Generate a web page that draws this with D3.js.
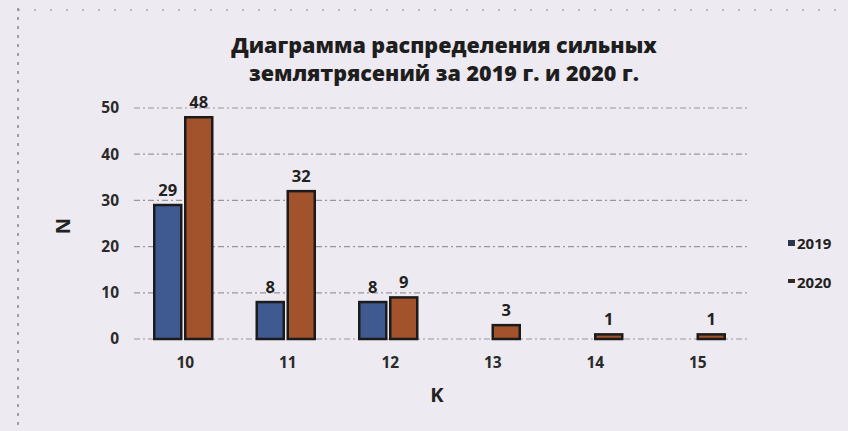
<!DOCTYPE html>
<html><head><meta charset="utf-8">
<script src="https://cdn.jsdelivr.net/npm/d3@7"></script>
<style>
html,body{margin:0;padding:0;background:#eeeaf1;}
svg{display:block;font-family:"Open Sans","DejaVu Sans",sans-serif;}
</style></head><body>
<svg id="c" width="848" height="431"></svg>
<script>
const categories = ["10","11","12","13","14","15"];
const seriesNames = ["2019","2020"];
const values2019 = [29, 8, 8, null, null, null];
const values2020 = [48, 32, 9, 3, 1, 1];
const yTicks = [0,10,20,30,40,50];
const titleLines = ["Диаграмма распределения сильных","землятрясений за 2019 г. и 2020 г."];
const colors = ["#3f5a91","#a2532c"];

const svg = d3.select("#c");
const W=848,H=431;
svg.append("rect").attr("width",W).attr("height",H).attr("fill","#eeeaf1");
// photo frame lines
svg.append("line").attr("x1",18).attr("x2",18).attr("y1",8).attr("y2",H)
  .attr("stroke","#555").attr("stroke-width",1).attr("stroke-dasharray","3,6");
svg.append("line").attr("x1",18).attr("x2",W).attr("y1",10).attr("y2",10)
  .attr("stroke","#888").attr("stroke-width",1).attr("stroke-dasharray","2,14");

const x = d3.scaleBand().domain(categories).range([134,749]).paddingInner(0).paddingOuter(0);
const y = d3.scaleLinear().domain([0,50]).range([339,108]);
const bw = 27, gap = 4;

// gridlines
svg.append("g").selectAll("line").data(yTicks).join("line")
  .attr("x1",134).attr("x2",749).attr("y1",d=>y(d)).attr("y2",d=>y(d))
  .attr("stroke","#9a96a0").attr("stroke-width",1.2).attr("stroke-dasharray","6,3,2,3");

// y axis tick labels
const yAxis = d3.axisLeft(y).tickValues(yTicks).tickSize(0).tickPadding(0);
const ya = svg.append("g").attr("transform","translate(119,0)").call(yAxis);
ya.select(".domain").remove();
ya.selectAll("text").attr("font-size",15.5).attr("font-weight","bold").attr("fill","#2a2a2a")
  .attr("font-family","'Open Sans',sans-serif");

// x axis tick labels
const xAxis = d3.axisBottom(x).tickSize(0).tickPadding(0);
const xa = svg.append("g").attr("transform","translate(0,357)").call(xAxis);
xa.select(".domain").remove();
xa.selectAll("text").attr("font-size",15.5).attr("font-weight","bold").attr("fill","#2a2a2a")
  .attr("font-family","'Open Sans',sans-serif");

const series = [values2019, values2020];
series.forEach((vals,si)=>{
  const data = categories.map((c,i)=>({c,v:vals[i]})).filter(d=>d.v!=null);
  const off = si===0 ? -bw-gap/2 : gap/2;
  const g = svg.append("g");
  g.selectAll("rect").data(data).join("rect")
    .attr("x",d=>x(d.c)+x.bandwidth()/2+off-2)
    .attr("y",d=>y(d.v))
    .attr("width",bw).attr("height",d=>y(0)-y(d.v))
    .attr("fill",colors[si]).attr("stroke","#1b1b1b").attr("stroke-width",2.5);
  g.selectAll("text").data(data).join("text")
    .attr("x",d=>x(d.c)+x.bandwidth()/2+off-2+bw/2)
    .attr("y",d=>y(d.v)-9)
    .attr("text-anchor","middle")
    .attr("font-size",16.5).attr("font-weight","bold").attr("fill","#222")
    .text(d=>d.v);
});

// title
svg.append("text").attr("x",444).attr("y",0).attr("text-anchor","middle")
  .attr("font-size",21.5).attr("font-weight","800").attr("fill","#1e1e1e")
  .selectAll("tspan").data(titleLines).join("tspan")
  .attr("x",444).attr("y",(d,i)=>53+i*28).text(d=>d);

// axis titles
svg.append("text").attr("transform","translate(70,226) rotate(-90)")
  .attr("text-anchor","middle").attr("font-size",20).attr("font-weight","bold")
  .attr("fill","#222").text("N");
svg.append("text").attr("x",437).attr("y",402).attr("text-anchor","middle")
  .attr("font-size",20).attr("font-weight","bold").attr("fill","#222").text("K");

// legend
const lg = svg.append("g");
seriesNames.forEach((n,i)=>{
  const yy = 244 + i*39;
  lg.append("rect").attr("x",788).attr("y",yy-4).attr("width",7).attr("height",i===0?6:4)
    .attr("fill",i===0?"#2b3550":"#3a2a22");
  lg.append("text").attr("x",797).attr("y",yy+5).attr("font-size",15).attr("font-weight","bold")
    .attr("fill","#222").text(n);
});
</script>
</body></html>
